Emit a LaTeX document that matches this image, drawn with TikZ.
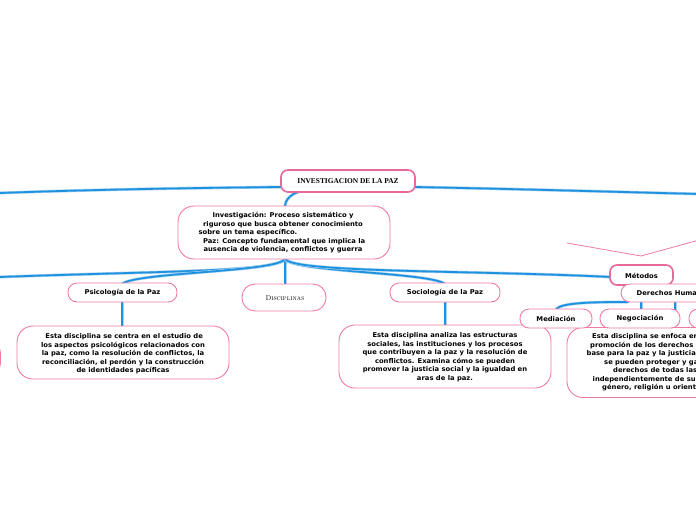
\documentclass[tikz,border=0pt]{standalone}
\usepackage{fontspec}
\newfontfamily\dv{DejaVu Sans}[FakeStretch=1.03]
\newfontfamily\ser{Liberation Serif}
\definecolor{pk}{HTML}{F07BA6}
\definecolor{pkd}{HTML}{E8689A}
\definecolor{bl}{HTML}{1E92DE}
\definecolor{blh}{HTML}{A8D3F2}
\tikzset{
  txt/.style={font=\dv\bfseries\fontsize{6.6}{8.5}\selectfont, text=black, align=center, inner sep=0pt},
  box/.style={draw=pk, line width=0.9pt, rounded corners=9pt, fill=white, inner sep=0pt},
  bigbox/.style={draw=pk, line width=0.9pt, rounded corners=16pt, fill=white, inner sep=0pt},
  conn/.style={draw=bl, line width=1.8pt, line cap=round,
     preaction={draw=blh, line width=3pt}},
  pkline/.style={draw=pk, line width=0.8pt},
}
\begin{document}
\begin{tikzpicture}[x=1pt,y=-1pt]
\useasboundingbox (0,0) rectangle (696,520);
\clip (0,0) rectangle (696,520);
\fill[white] (0,0) rectangle (696,520);

% free ends
\coordinate (Lend) at (0,193);
\coordinate (Rend) at (700,194);
\coordinate (L2end) at (0,277);
\coordinate (v1) at (567,243);
\coordinate (v2) at (641,256);
\coordinate (v3) at (710,237);

% pink V shape
\draw[pkline] (v1) -- (v2) -- (v3);

% ---- connectors drawn first (under boxes)
\coordinate (mainL) at (282,187);
\coordinate (mainR) at (414,187);
\coordinate (mainB) at (302,191);
\coordinate (n2T) at (285,207);
\coordinate (n2B) at (285,258);

\draw[conn] (mainL) .. controls (180,188) and (80,190) .. (Lend);
\draw[conn] (mainR) .. controls (520,189) and (620,192) .. (Rend);
\draw[conn] (n2T) .. controls (285,199) and (292,193) .. (mainB);

\draw[conn] (n2B) .. controls (285,272) and (160,271) .. (L2end);
\draw[conn] (n2B) .. controls (285,272) and (135,272) .. (122,284);
\draw[conn] (n2B) -- (285,285);
\draw[conn] (n2B) .. controls (285,272) and (430,272) .. (445,284);
\draw[conn] (n2B) .. controls (285,273) and (470,270) .. (611,277);

\draw[conn] (122,302) -- (122,327);
\draw[conn] (445,302) -- (445,326);

\draw[conn] (628,302) .. controls (600,302) and (558,302) .. (556,310);
\draw[conn] (641,302) -- (641,310);
\draw[conn] (675,302) -- (675,310);

% ---- nodes
\node[box, line width=1.6pt, draw=pkd, rounded corners=7pt, minimum width=134pt, minimum height=22pt] (main) at (348,181)
  {\ser\bfseries\fontsize{7.4}{8}\selectfont INVESTIGACION DE LA PAZ};

\node[bigbox, minimum width=212pt, minimum height=53pt] (n2) at (284,232.5) {};
\node[txt] (n2t) at (283,233) {Investigación: Proceso sistemático y\\
riguroso que busca obtener conocimiento\\
sobre un tema específico.\hspace*{70pt}\mbox{}\\
\ Paz: Concepto fundamental que implica la\\
ausencia de violencia, conflictos y guerra};

\node[box, minimum width=109pt, minimum height=19pt] (psi) at (122.5,292.5) {};
\node[txt] at (122.5,293) {Psicología de la Paz};

\node[bigbox, rounded corners=13pt, minimum width=84pt, minimum height=27pt] (dis) at (284,297.5) {};
\node[font=\scshape\fontsize{7}{8}\selectfont, inner sep=0pt] at (285,298) {Disciplinas};

\node[box, minimum width=110pt, minimum height=19pt] (soc) at (445,292.5) {};
\node[txt] at (445,293) {Sociología de la Paz};

\node[bigbox, minimum width=212pt, minimum height=53pt] (psid) at (123,352.5) {};
\node[txt] at (123,354) {\ Esta disciplina se centra en el estudio de\\
los aspectos psicológicos relacionados con\\
la paz, como la resolución de conflictos, la\\
reconciliación, el perdón y la construcción\\
de identidades pacíficas};

\node[bigbox, minimum width=212pt, minimum height=63pt] (socd) at (445,356.5) {};
\node[txt] at (445,357) {Esta disciplina analiza las estructuras\\
sociales, las instituciones y los procesos\\
que contribuyen a la paz y la resolución de\\
conflictos. Examina cómo se pueden\\
promover la justicia social y la igualdad en\\
aras de la paz.};

\node[bigbox, minimum width=101pt, minimum height=40pt] (left) at (-50,358) {};

\node[box, line width=1.6pt, draw=pkd, rounded corners=7pt, minimum width=63pt, minimum height=20pt] (met) at (641.5,275) {};
\node[txt] at (641.5,275.5) {Métodos};

\node[box, minimum width=130pt, minimum height=18pt] (dh) at (686,293) {};
\node[txt, anchor=west] at (636.5,293.5) {Derechos Humanos};

\node[bigbox, minimum width=212pt, minimum height=70pt] (dhd) at (673,362.5) {};
\node[txt, align=left, anchor=north west] at (585,333.5) {\hspace*{7pt}Esta disciplina se enfoca en la\\
\hspace*{5pt}promoción de los derechos humanos como\\
\hspace*{1.5pt}base para la paz y la justicia. Examina cómo\\
\hspace*{19pt}se pueden proteger y garantizar los\\
\hspace*{28pt}derechos de todas las personas,\\
\hspace*{7.5pt}independientemente de su raza,\\
\hspace*{17pt}género, religión u orientación sexual.};

\node[box, minimum width=72pt, minimum height=19pt] (med) at (556,318.5) {};
\node[txt] at (556,319) {Mediación};
\node[box, minimum width=80pt, minimum height=19pt] (neg) at (640,318.5) {};
\node[txt] at (640,319) {Negociación};
\node[box, minimum width=70pt, minimum height=19pt] (third) at (724,318.5) {};
\end{tikzpicture}
\end{document}
